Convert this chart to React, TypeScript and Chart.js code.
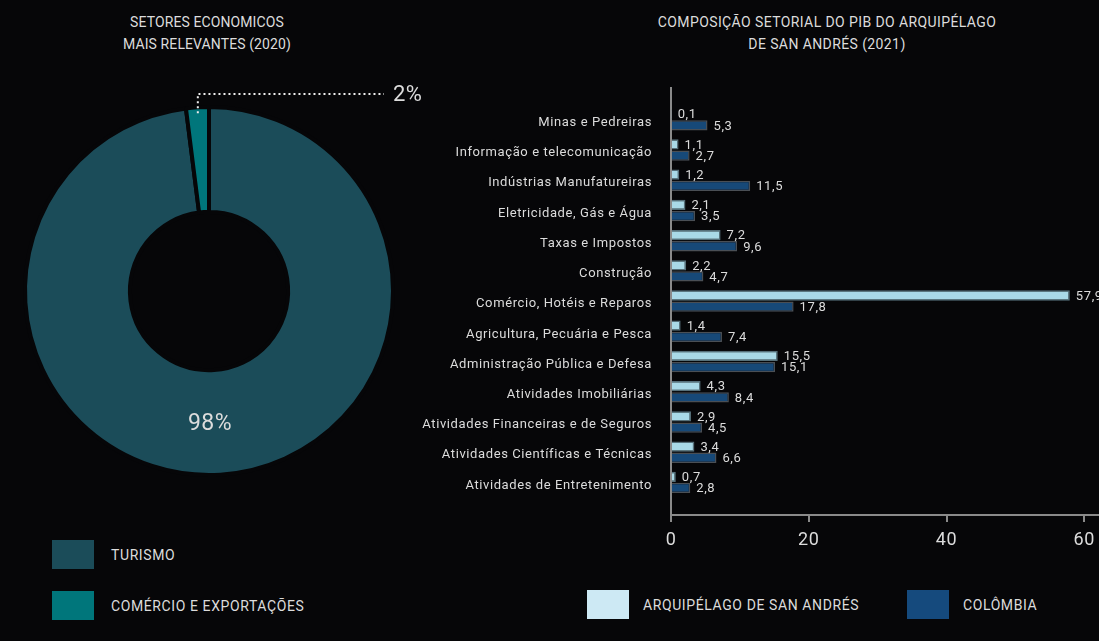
import React, { useEffect, useRef } from 'react';
import { Chart, registerables } from 'chart.js';

Chart.register(...registerables);

const FONT = 'Roboto, "DejaVu Sans", sans-serif';
const TEXT = '#dcdcdc';
const BG = '#060608';
const AXIS = '#8a8a8a';

// ---------- Doughnut data ----------
const pieTitle = ['SETORES ECONOMICOS', 'MAIS RELEVANTES (2020)'];
const pieLabels = ['TURISMO', 'COMÉRCIO E EXPORTAÇÕES'];
const pieValues = [98, 2];
const pieColors = ['#1b4c59', '#00767b'];

// ---------- Bar data ----------
const barTitle = ['COMPOSIÇÃO SETORIAL DO PIB DO ARQUIPÉLAGO', 'DE SAN ANDRÉS (2021)'];
const sectors = [
  'Minas e Pedreiras',
  'Informação e telecomunicação',
  'Indústrias Manufatureiras',
  'Eletricidade, Gás e Água',
  'Taxas e Impostos',
  'Construção',
  'Comércio, Hotéis e Reparos',
  'Agricultura, Pecuária e Pesca',
  'Administração Pública e Defesa',
  'Atividades Imobiliárias',
  'Atividades Financeiras e de Seguros',
  'Atividades Científicas e Técnicas',
  'Atividades de Entretenimento',
];
const sanAndres = [0.1, 1.1, 1.2, 2.1, 7.2, 2.2, 57.9, 1.4, 15.5, 4.3, 2.9, 3.4, 0.7];
const colombia = [5.3, 2.7, 11.5, 3.5, 9.6, 4.7, 17.8, 7.4, 15.1, 8.4, 4.5, 6.6, 2.8];
const seriesNames = ['ARQUIPÉLAGO DE SAN ANDRÉS', 'COLÔMBIA'];
const barFill = ['#a9d9e7', '#174978'];
const barBorder = ['#56707a', '#4a4f55'];
const legendFill = ['#cde9f4', '#154a7d'];
const xMax = 62;
const xStep = 20;

const fmt = (v: number) => v.toFixed(1).replace('.', ',');

const spacingPlugin = (px: string) => ({
  id: 'letterSpacing',
  beforeUpdate(chart: any) {
    chart.ctx.letterSpacing = px;
  },
  beforeDraw(chart: any) {
    chart.ctx.letterSpacing = px;
  },
});

const pieAnnotations = {
  id: 'pieAnnotations',
  afterDatasetsDraw(chart: any) {
    const ctx = chart.ctx;
    const arcs = chart.getDatasetMeta(0).data;
    ctx.save();
    ctx.letterSpacing = '0.5px';
    ctx.fillStyle = TEXT;
    ctx.font = `23px ${FONT}`;
    ctx.textBaseline = 'middle';
    // label of the large slice, placed at the bottom of the ring
    const a0 = arcs[0];
    const r0 = (a0.innerRadius + a0.outerRadius) / 2;
    ctx.textAlign = 'center';
    ctx.fillText(`${pieValues[0]}%`, a0.x + 1, a0.y + r0 + 2);
    // callout for the small slice
    const a1 = arcs[1];
    const m1 = (a1.startAngle + a1.endAngle) / 2;
    const sx = a1.x + Math.cos(m1) * (a1.outerRadius - 6);
    const sy = a1.y + Math.sin(m1) * (a1.outerRadius - 6);
    const ly = chart.chartArea.top - 11;
    const lx = chart.chartArea.right - 11;
    ctx.strokeStyle = '#eeeeee';
    ctx.lineWidth = 2;
    ctx.setLineDash([2, 3]);
    ctx.beginPath();
    ctx.moveTo(sx, sy);
    ctx.lineTo(sx, ly);
    ctx.lineTo(lx, ly);
    ctx.stroke();
    ctx.setLineDash([]);
    ctx.textAlign = 'left';
    ctx.font = `22px ${FONT}`;
    ctx.fillText(`${pieValues[1]}%`, lx + 9, ly + 1);
    ctx.restore();
  },
};

const valueLabels = {
  id: 'valueLabels',
  afterDatasetsDraw(chart: any) {
    const ctx = chart.ctx;
    ctx.save();
    ctx.letterSpacing = '0.6px';
    ctx.font = `13px ${FONT}`;
    ctx.fillStyle = TEXT;
    ctx.textAlign = 'left';
    ctx.textBaseline = 'middle';
    chart.data.datasets.forEach((ds: any, di: number) => {
      chart.getDatasetMeta(di).data.forEach((bar: any, i: number) => {
        ctx.fillText(fmt(ds.data[i].x), bar.x + 6, bar.y + 1);
      });
    });
    ctx.restore();
  },
};

function DoughnutChart() {
  const ref = useRef<HTMLCanvasElement>(null);
  useEffect(() => {
    const chart = new Chart(ref.current!, {
      type: 'doughnut',
      data: {
        labels: pieLabels,
        datasets: [
          {
            data: pieValues,
            backgroundColor: pieColors,
            borderColor: BG,
            borderWidth: 4,
          },
        ],
      },
      options: {
        animation: false,
        responsive: false,
        events: [],
        cutout: '43%',
        rotation: 0,
        layout: { padding: { left: 23, right: 45, top: 35, bottom: 13 } },
        plugins: { legend: { display: false }, tooltip: { enabled: false } },
      },
      plugins: [pieAnnotations],
    } as any);
    return () => chart.destroy();
  }, []);
  return (
    <canvas
      ref={ref}
      width={440}
      height={420}
      style={{ position: 'absolute', left: 0, top: 70, width: 440, height: 420 }}
    />
  );
}

function BarChart() {
  const ref = useRef<HTMLCanvasElement>(null);
  useEffect(() => {
    const chart = new Chart(ref.current!, {
      type: 'bar',
      data: {
        datasets: [sanAndres, colombia].map((vals, di) => ({
          label: seriesNames[di],
          data: vals.map((v, i) => ({ x: v, y: i })),
          backgroundColor: barFill[di],
          borderColor: barBorder[di],
          borderWidth: 1.5,
          categoryPercentage: 0.74,
          barPercentage: 0.92,
        })),
      },
      options: {
        indexAxis: 'y',
        animation: false,
        responsive: false,
        events: [],
        layout: { padding: 0 },
        plugins: { legend: { display: false }, tooltip: { enabled: false } },
        scales: {
          x: {
            type: 'linear',
            min: 0,
            max: xMax,
            ticks: {
              stepSize: xStep,
              includeBounds: false,
              color: TEXT,
              font: { family: FONT, size: 18 },
              padding: 8,
            },
            grid: {
              display: true,
              drawOnChartArea: false,
              drawTicks: true,
              tickLength: 7,
              color: AXIS,
              lineWidth: 2,
            },
            border: { display: true, color: AXIS, width: 2 },
            afterFit: (s: any) => {
              s.height = 45;
            },
          },
          y: {
            type: 'linear',
            reverse: true,
            offset: false,
            min: -1.06,
            max: 13.08,
            afterBuildTicks: (s: any) => {
              s.ticks = sectors.map((_, i) => ({ value: i }));
            },
            ticks: {
              autoSkip: false,
              callback: (v: any) => sectors[v],
              color: TEXT,
              font: { family: FONT, size: 13 },
              padding: 19,
              labelOffset: 3,
            },
            grid: { display: false, drawTicks: false },
            border: { display: true, color: AXIS, width: 2 },
            afterFit: (s: any) => {
              s.width = 271;
            },
          },
        },
      },
      plugins: [spacingPlugin('0.6px'), valueLabels],
    } as any);
    return () => chart.destroy();
  }, []);
  return (
    <canvas
      ref={ref}
      width={703}
      height={499}
      style={{ position: 'absolute', left: 400, top: 61, width: 703, height: 499 }}
    />
  );
}

const textBase: React.CSSProperties = {
  position: 'absolute',
  color: TEXT,
  fontFamily: FONT,
  whiteSpace: 'nowrap',
};

function LegendItem({ x, y, color, label, textX }: { x: number; y: number; color: string; label: string; textX: number }) {
  return (
    <>
      <div style={{ position: 'absolute', left: x, top: y, width: 42, height: 29, background: color }} />
      <div
        style={{
          ...textBase,
          left: textX,
          top: y + 1,
          height: 29,
          lineHeight: '29px',
          fontSize: 14,
          letterSpacing: '0.6px',
        }}
      >
        {label}
      </div>
    </>
  );
}

export default function App() {
  return (
    <div style={{ position: 'fixed', left: 0, top: 0, width: 1099, height: 641, background: BG, overflow: 'hidden' }}>
      <div
        style={{
          ...textBase,
          left: 0,
          width: 414,
          top: 11,
          textAlign: 'center',
          fontSize: 14,
          lineHeight: '22px',
          letterSpacing: '0.1px',
        }}
      >
        {pieTitle.map((t) => (
          <div key={t}>{t}</div>
        ))}
      </div>
      <div
        style={{
          ...textBase,
          left: 555,
          width: 544,
          top: 11,
          textAlign: 'center',
          fontSize: 14,
          lineHeight: '22px',
          letterSpacing: '0.4px',
        }}
      >
        {barTitle.map((t) => (
          <div key={t}>{t}</div>
        ))}
      </div>
      <DoughnutChart />
      <BarChart />
      <LegendItem x={52} y={540} color={pieColors[0]} label={pieLabels[0]} textX={111} />
      <LegendItem x={52} y={591} color={pieColors[1]} label={pieLabels[1]} textX={111} />
      <LegendItem x={587} y={590} color={legendFill[0]} label={seriesNames[0]} textX={643} />
      <LegendItem x={907} y={590} color={legendFill[1]} label={seriesNames[1]} textX={963} />
    </div>
  );
}
